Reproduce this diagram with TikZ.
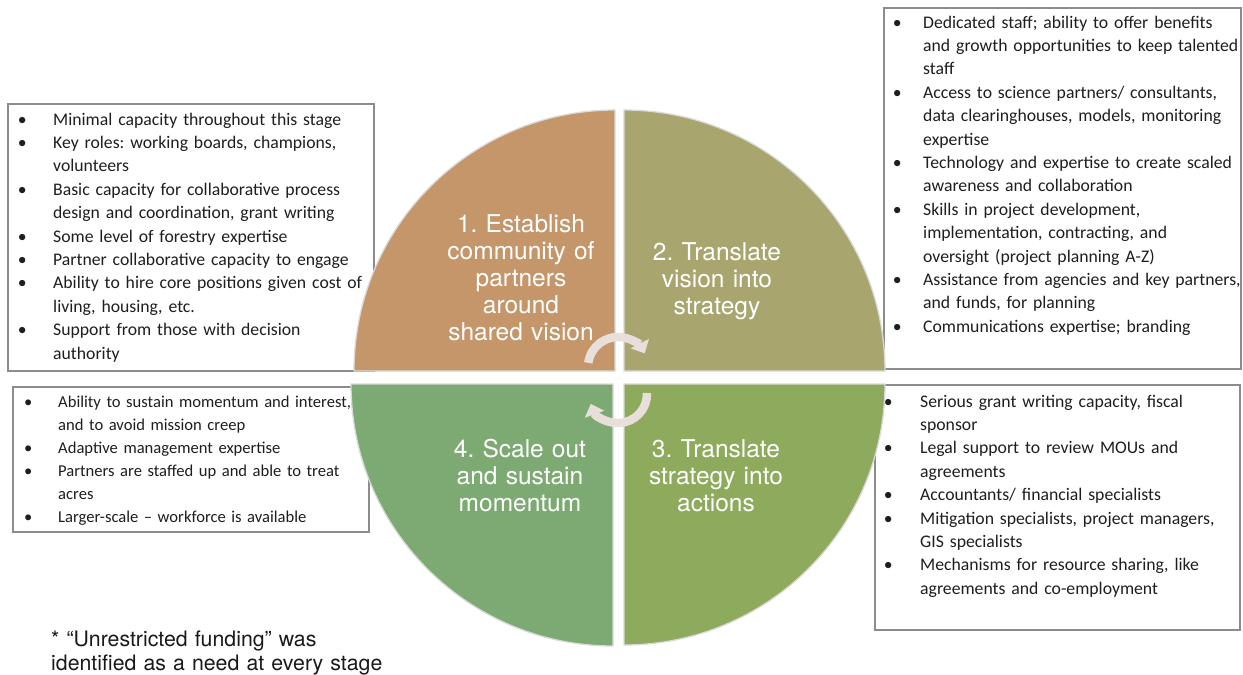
\documentclass[tikz,border=0pt]{standalone}
\usepackage{fontspec}
\setmainfont{Carlito}
\newfontfamily\headfont{TeX Gyre Heros}
\usetikzlibrary{arrows.meta}
\frenchspacing

\definecolor{stageone}{RGB}{196,150,106}
\definecolor{stagetwo}{RGB}{168,166,110}
\definecolor{stagethree}{RGB}{142,170,92}
\definecolor{stagefour}{RGB}{125,170,115}
\definecolor{quadedge}{RGB}{218,218,218}
\definecolor{boxedge}{RGB}{140,140,140}
\definecolor{loopcol}{RGB}{233,223,218}
\definecolor{listtext}{RGB}{30,30,30}

% bulleted item with a hanging indent of \bgap
\newlength\bgap
\newcommand\bitem[1]{\noindent\hangindent=\bgap\hangafter=1%
  \makebox[\bgap][l]{\makebox[0pt]{\textbullet}}#1\par}

\tikzset{
  needbox/.style={draw=boxedge, line width=1.6pt, fill=white, anchor=north west,
    inner sep=0pt, outer sep=0pt},
  needlist/.style={anchor=base west, inner sep=0pt, text width=420pt, text=listtext,
    font=\fontsize{17.7}{23.4}\selectfont},
  quadrant/.style={draw=quadedge, line width=1.3pt},
  stagetext/.style={anchor=base, inner sep=0pt, text width=220pt, align=center,
    text=white, font=\headfont\fontsize{24.5}{27.2}\selectfont},
  cyclearrow/.style={draw=loopcol, line width=8.5pt,
    -{Triangle[length=11pt,width=20pt]}},
  footnote/.style={anchor=base west, inner sep=0pt, text width=400pt, align=left,
    text={rgb,255:red,25;green,25;blue,25},
    font=\headfont\fontsize{21.3}{24.5}\selectfont}
}

\begin{document}
\begin{tikzpicture}[x=1pt, y=-1pt]
\useasboundingbox (0,0) rectangle (1243,675);

% framed lists of needs (drawn beneath the wheel)
\node[needbox, minimum width=366pt, minimum height=267pt] (boxone) at (8,104) {};
\node[needbox, minimum width=357pt, minimum height=361pt] (boxtwo) at (884,8) {};
\node[needbox, minimum width=365pt, minimum height=245pt] (boxthree) at (875,385) {};
\node[needbox, minimum width=356pt, minimum height=145pt] (boxfour) at (13,387) {};

\node[needlist] (listone) at (22,125) {\setlength\bgap{31pt}%
  \bitem{Minimal capacity throughout this stage}
  \bitem{Key roles: working boards, champions,\newline volunteers}
  \bitem{Basic capacity for collaborative process\newline design and coordination, grant writing}
  \bitem{Some level of forestry expertise}
  \bitem{Partner collaborative capacity to engage}
  \bitem{Ability to hire core positions given cost of\newline living, housing, etc.}
  \bitem{Support from those with decision\newline authority}};

\node[needlist] (listtwo) at (897,28) {\setlength\bgap{26pt}%
  \bitem{Dedicated staff; ability to offer benefits\newline and growth opportunities to keep talented\newline staff}
  \bitem{Access to science partners/ consultants,\newline data clearinghouses, models, monitoring\newline expertise}
  \bitem{Technology and expertise to create scaled\newline awareness and collaboration}
  \bitem{Skills in project development,\newline implementation, contracting, and\newline oversight (project planning A-Z)}
  \bitem{Assistance from agencies and key partners,\newline and funds, for planning}
  \bitem{Communications expertise; branding}};

\node[needlist] (listthree) at (888,407) {\setlength\bgap{32pt}%
  \bitem{Serious grant writing capacity, fiscal\newline sponsor}
  \bitem{Legal support to review MOUs and\newline agreements}
  \bitem{Accountants/ financial specialists}
  \bitem{Mitigation specialists, project managers,\newline GIS specialists}
  \bitem{Mechanisms for resource sharing, like\newline agreements and co-employment}};

\node[needlist, font=\fontsize{16.6}{23}\selectfont] (listfour) at (28,407) {\setlength\bgap{30pt}%
  \bitem{Ability to sustain momentum and interest,\newline and to avoid mission creep}
  \bitem{Adaptive management expertise}
  \bitem{Partners are staffed up and able to treat\newline acres}
  \bitem{Larger-scale -- workforce is available}};

% the four quarters of the wheel
\fill[stageone]   (615,371) -- (354,371) arc[start angle=180, end angle=270, radius=261] -- cycle;
\fill[stagetwo]   (624,371) -- (624,110) arc[start angle=270, end angle=360, radius=261] -- cycle;
\fill[stagethree] (624,384) -- (885,384) arc[start angle=0,   end angle=90,  radius=261] -- cycle;
\fill[stagefour]  (613,384) -- (613,646) arc[start angle=90,  end angle=180, radius=262] -- cycle;
\draw[quadrant] (615,371) -- (354,371) arc[start angle=180, end angle=270, radius=261] -- cycle;
\draw[quadrant] (624,371) -- (624,110) arc[start angle=270, end angle=360, radius=261] -- cycle;
\draw[quadrant] (624,384) -- (885,384) arc[start angle=0,   end angle=90,  radius=261] -- cycle;
\draw[quadrant] (613,384) -- (613,646) arc[start angle=90,  end angle=180, radius=262] -- cycle;

\node[stagetext] (stageA) at (521,232) {1. Establish\\community of\\partners\\around\\shared vision};
\node[stagetext] (stageB) at (717,260) {2. Translate\\vision into\\strategy};
\node[stagetext] (stageC) at (716,457) {3. Translate\\strategy into\\actions};
\node[stagetext] (stageD) at (520,457) {4. Scale out\\and sustain\\momentum};

% cycle arrows at the hub
\coordinate (hubtop) at (618,367);
\coordinate (hubbottom) at (618,394);
\draw[cyclearrow] ([shift={(188:30)}]hubtop) arc[start angle=188, end angle=333, radius=30];
\draw[cyclearrow] ([shift={(-2:29)}]hubbottom) arc[start angle=-2, end angle=160, radius=29];

\node[footnote] (note) at (51,646) {* “Unrestricted funding” was\\identified as a need at every stage};
\end{tikzpicture}
\end{document}
